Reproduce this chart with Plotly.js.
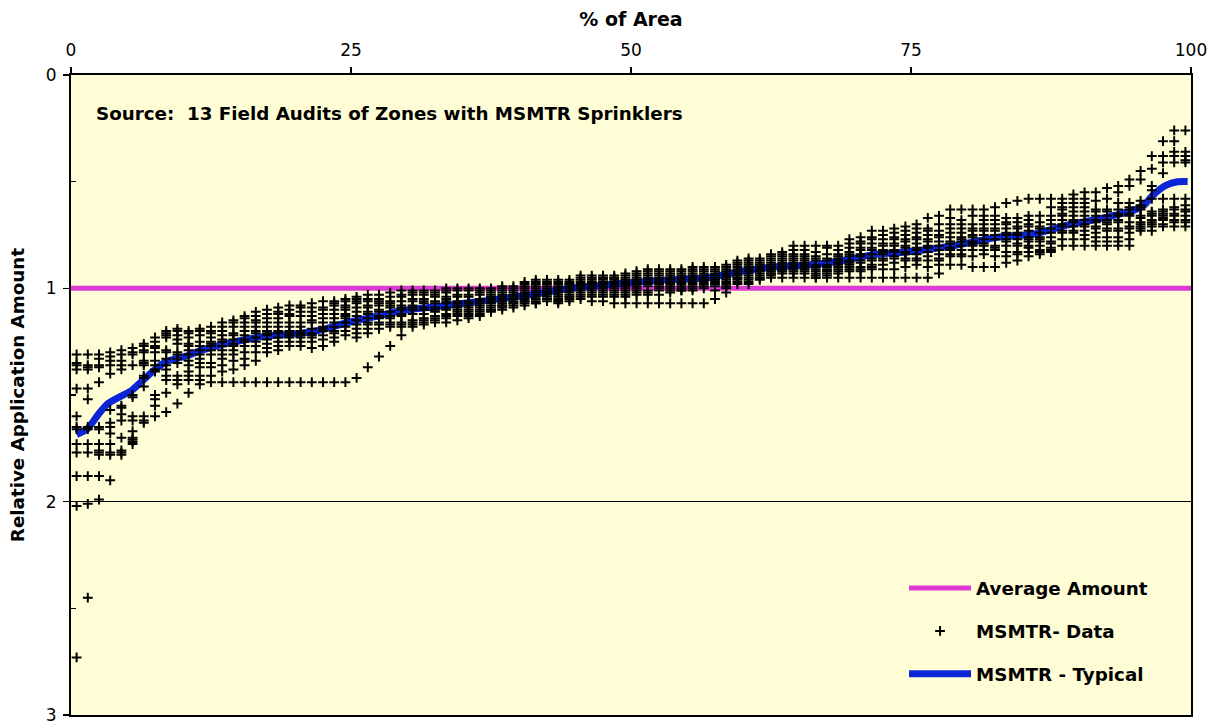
<!DOCTYPE html>
<html><head><meta charset="utf-8">
<script src="https://cdn.plot.ly/plotly-3.0.1.min.js"></script>
<style>html,body{margin:0;padding:0;background:#fff}#chart{width:1215px;height:724px}</style>
</head><body><div id="chart"></div>
<script>
// % of Area at which each column of audit readings was plotted
const areaPct = [0.5,1.5,2.5,3.5,4.5,5.5,6.5,7.5,8.5,9.5,10.5,11.5,12.5,13.5,14.5,15.5,16.5,17.5,18.5,19.5,
20.5,21.5,22.5,23.5,24.5,25.5,26.5,27.5,28.5,29.5,30.5,31.5,32.5,33.5,34.5,35.5,36.5,37.5,38.5,39.5,
40.5,41.5,42.5,43.5,44.5,45.5,46.5,47.5,48.5,49.5,50.5,51.5,52.5,53.5,54.5,55.5,56.5,57.5,58.5,59.5,
60.5,61.5,62.5,63.5,64.5,65.5,66.5,67.5,68.5,69.5,70.5,71.5,72.5,73.5,74.5,75.5,76.5,77.5,78.5,79.5,
80.5,81.5,82.5,83.5,84.5,85.5,86.5,87.5,88.5,89.5,90.5,91.5,92.5,93.5,94.5,95.5,96.5,97.5,98.5,99.5];

// MSMTR data: 13 audit readings (relative application amount) per column
const amounts01to10 = [
[1.31,1.35,1.36,1.38,1.47,1.60,1.65,1.66,1.73,1.77,1.88,2.02,2.73],
[1.31,1.36,1.37,1.38,1.47,1.52,1.65,1.66,1.73,1.77,1.88,2.01,2.45],
[1.31,1.33,1.36,1.37,1.44,1.65,1.66,1.73,1.76,1.77,1.78,1.88,1.99],
[1.30,1.32,1.34,1.36,1.40,1.57,1.63,1.65,1.68,1.73,1.77,1.78,1.90],
[1.29,1.31,1.34,1.36,1.38,1.55,1.56,1.59,1.62,1.70,1.76,1.77,1.78],
[1.28,1.30,1.31,1.36,1.50,1.51,1.60,1.62,1.67,1.70,1.71,1.72,1.73],
[1.26,1.27,1.29,1.30,1.34,1.35,1.36,1.41,1.42,1.46,1.60,1.62,1.63],
[1.23,1.25,1.27,1.28,1.30,1.34,1.36,1.38,1.39,1.50,1.52,1.55,1.60],
[1.20,1.21,1.22,1.23,1.29,1.30,1.33,1.36,1.38,1.41,1.43,1.49,1.58],
[1.19,1.20,1.22,1.24,1.26,1.30,1.31,1.33,1.35,1.41,1.43,1.45,1.54]];
const amounts11to20 = [
[1.20,1.21,1.23,1.26,1.27,1.29,1.31,1.34,1.36,1.39,1.41,1.43,1.49],
[1.19,1.20,1.22,1.25,1.27,1.29,1.31,1.33,1.35,1.37,1.41,1.43,1.45],
[1.18,1.20,1.21,1.23,1.25,1.26,1.27,1.29,1.31,1.35,1.37,1.41,1.44],
[1.16,1.18,1.20,1.22,1.24,1.25,1.27,1.29,1.31,1.33,1.36,1.39,1.44],
[1.15,1.16,1.18,1.21,1.22,1.24,1.26,1.27,1.29,1.31,1.34,1.38,1.44],
[1.13,1.14,1.16,1.18,1.20,1.22,1.24,1.25,1.27,1.30,1.33,1.36,1.44],
[1.11,1.13,1.15,1.16,1.18,1.20,1.21,1.23,1.25,1.27,1.30,1.34,1.44],
[1.10,1.12,1.14,1.16,1.18,1.20,1.21,1.22,1.24,1.26,1.28,1.30,1.44],
[1.09,1.11,1.12,1.14,1.16,1.18,1.20,1.21,1.23,1.25,1.27,1.29,1.44],
[1.08,1.10,1.12,1.13,1.16,1.18,1.20,1.21,1.22,1.23,1.25,1.27,1.44]];
const amounts21to30 = [
[1.08,1.09,1.11,1.13,1.16,1.18,1.20,1.21,1.22,1.23,1.25,1.27,1.44],
[1.07,1.09,1.11,1.13,1.15,1.16,1.19,1.21,1.22,1.23,1.25,1.28,1.44],
[1.06,1.09,1.10,1.12,1.14,1.16,1.18,1.19,1.20,1.22,1.24,1.27,1.44],
[1.06,1.07,1.08,1.10,1.12,1.14,1.16,1.18,1.20,1.21,1.23,1.25,1.44],
[1.05,1.06,1.08,1.09,1.10,1.12,1.13,1.14,1.16,1.18,1.20,1.22,1.44],
[1.04,1.05,1.06,1.07,1.09,1.11,1.13,1.15,1.17,1.19,1.21,1.23,1.42],
[1.03,1.05,1.06,1.08,1.09,1.11,1.12,1.14,1.16,1.17,1.19,1.21,1.37],
[1.03,1.05,1.06,1.07,1.08,1.10,1.11,1.13,1.14,1.16,1.17,1.19,1.32],
[1.02,1.04,1.06,1.07,1.08,1.09,1.11,1.13,1.14,1.16,1.17,1.18,1.27],
[1.01,1.03,1.04,1.06,1.08,1.09,1.10,1.12,1.13,1.16,1.17,1.18,1.22]];
const amounts31to40 = [
[1.01,1.02,1.03,1.05,1.06,1.08,1.09,1.10,1.12,1.15,1.16,1.17,1.18],
[1.01,1.02,1.03,1.05,1.06,1.07,1.09,1.10,1.12,1.14,1.15,1.16,1.17],
[1.01,1.02,1.03,1.04,1.06,1.07,1.09,1.10,1.11,1.13,1.14,1.15,1.16],
[1.00,1.01,1.02,1.04,1.05,1.06,1.07,1.09,1.10,1.12,1.13,1.14,1.16],
[1.00,1.01,1.03,1.04,1.06,1.07,1.08,1.09,1.10,1.11,1.12,1.13,1.15],
[1.00,1.01,1.03,1.04,1.06,1.07,1.08,1.09,1.10,1.11,1.12,1.13,1.14],
[1.00,1.01,1.02,1.03,1.05,1.06,1.07,1.08,1.09,1.10,1.11,1.12,1.13],
[1.00,1.01,1.02,1.03,1.04,1.05,1.06,1.07,1.08,1.09,1.10,1.10,1.11],
[0.99,1.00,1.01,1.02,1.03,1.04,1.05,1.06,1.07,1.08,1.08,1.09,1.10],
[0.99,1.00,1.01,1.02,1.03,1.04,1.05,1.05,1.06,1.07,1.07,1.08,1.09]];
const amounts41to50 = [
[0.97,0.98,0.99,1.00,1.01,1.02,1.03,1.04,1.05,1.06,1.06,1.07,1.08],
[0.96,0.97,0.98,0.99,1.00,1.01,1.02,1.03,1.04,1.05,1.06,1.07,1.07],
[0.96,0.97,0.98,0.99,1.00,1.01,1.02,1.02,1.03,1.04,1.05,1.05,1.06],
[0.96,0.97,0.98,0.99,1.00,1.01,1.02,1.03,1.04,1.05,1.06,1.06,1.07],
[0.96,0.97,0.98,0.98,0.99,1.00,1.01,1.02,1.03,1.04,1.04,1.05,1.06],
[0.94,0.95,0.96,0.97,0.98,0.99,0.99,1.00,1.01,1.02,1.03,1.04,1.05],
[0.94,0.95,0.96,0.97,0.98,0.98,0.99,1.00,1.01,1.02,1.03,1.04,1.06],
[0.94,0.95,0.95,0.96,0.97,0.98,0.99,1.00,1.01,1.02,1.03,1.04,1.06],
[0.94,0.95,0.95,0.96,0.97,0.98,0.99,1.00,1.01,1.02,1.03,1.04,1.07],
[0.93,0.94,0.95,0.96,0.97,0.98,0.99,1.00,1.01,1.02,1.03,1.04,1.07]];
const amounts51to60 = [
[0.92,0.93,0.94,0.95,0.96,0.97,0.98,0.99,1.00,1.01,1.02,1.03,1.07],
[0.91,0.92,0.93,0.94,0.95,0.96,0.97,0.98,0.99,1.01,1.02,1.03,1.07],
[0.91,0.92,0.93,0.94,0.95,0.96,0.97,0.98,0.99,1.00,1.01,1.03,1.07],
[0.91,0.92,0.93,0.94,0.95,0.96,0.97,0.98,0.99,1.00,1.01,1.02,1.07],
[0.91,0.92,0.93,0.94,0.95,0.96,0.97,0.98,0.99,1.00,1.01,1.01,1.07],
[0.90,0.91,0.92,0.93,0.94,0.95,0.96,0.97,0.98,0.99,1.00,1.01,1.07],
[0.90,0.91,0.92,0.93,0.94,0.95,0.96,0.96,0.97,0.98,0.99,1.00,1.07],
[0.90,0.91,0.92,0.93,0.94,0.95,0.96,0.96,0.97,0.98,0.99,1.01,1.05],
[0.89,0.90,0.91,0.92,0.93,0.94,0.95,0.96,0.97,0.98,0.99,1.00,1.02],
[0.87,0.88,0.89,0.90,0.91,0.92,0.93,0.94,0.95,0.95,0.96,0.97,0.98]];
const amounts61to70 = [
[0.86,0.87,0.88,0.89,0.90,0.91,0.92,0.93,0.94,0.95,0.96,0.97,0.98],
[0.86,0.87,0.88,0.89,0.90,0.91,0.92,0.92,0.93,0.94,0.95,0.95,0.96],
[0.84,0.85,0.86,0.87,0.88,0.89,0.90,0.91,0.92,0.93,0.93,0.94,0.95],
[0.83,0.84,0.85,0.86,0.87,0.88,0.89,0.90,0.91,0.92,0.92,0.93,0.95],
[0.80,0.82,0.84,0.85,0.86,0.87,0.88,0.89,0.90,0.91,0.92,0.93,0.95],
[0.80,0.82,0.84,0.85,0.86,0.87,0.88,0.89,0.90,0.91,0.92,0.93,0.95],
[0.80,0.83,0.85,0.86,0.87,0.89,0.90,0.91,0.92,0.93,0.94,0.95,0.95],
[0.80,0.81,0.84,0.86,0.87,0.89,0.90,0.91,0.92,0.92,0.93,0.94,0.95],
[0.80,0.82,0.84,0.85,0.86,0.87,0.88,0.89,0.90,0.91,0.92,0.93,0.95],
[0.77,0.79,0.81,0.83,0.84,0.85,0.87,0.88,0.89,0.90,0.91,0.92,0.95]];
const amounts71to80 = [
[0.76,0.78,0.79,0.81,0.82,0.84,0.85,0.87,0.88,0.90,0.91,0.92,0.95],
[0.73,0.76,0.77,0.79,0.81,0.82,0.84,0.86,0.87,0.89,0.90,0.91,0.95],
[0.73,0.75,0.77,0.79,0.80,0.82,0.83,0.84,0.86,0.87,0.89,0.91,0.95],
[0.72,0.74,0.76,0.77,0.79,0.80,0.82,0.83,0.85,0.86,0.88,0.91,0.95],
[0.71,0.73,0.75,0.77,0.78,0.80,0.81,0.83,0.84,0.86,0.87,0.90,0.95],
[0.70,0.72,0.74,0.76,0.77,0.79,0.81,0.82,0.84,0.86,0.87,0.89,0.95],
[0.67,0.72,0.73,0.75,0.77,0.78,0.80,0.81,0.83,0.85,0.87,0.90,0.95],
[0.66,0.70,0.73,0.75,0.76,0.78,0.80,0.82,0.84,0.86,0.87,0.89,0.93],
[0.63,0.67,0.70,0.72,0.74,0.76,0.78,0.79,0.81,0.82,0.84,0.85,0.89],
[0.63,0.68,0.70,0.72,0.74,0.76,0.77,0.78,0.80,0.82,0.84,0.85,0.89]];
const amounts81to90 = [
[0.63,0.66,0.70,0.72,0.73,0.75,0.76,0.78,0.79,0.80,0.82,0.85,0.90],
[0.63,0.66,0.68,0.70,0.72,0.73,0.75,0.77,0.79,0.80,0.82,0.84,0.90],
[0.62,0.66,0.68,0.70,0.72,0.73,0.75,0.77,0.80,0.81,0.82,0.85,0.90],
[0.60,0.67,0.69,0.70,0.72,0.74,0.75,0.77,0.78,0.80,0.83,0.85,0.88],
[0.59,0.67,0.69,0.71,0.72,0.74,0.75,0.77,0.79,0.80,0.83,0.84,0.87],
[0.58,0.66,0.68,0.70,0.71,0.73,0.76,0.77,0.78,0.80,0.81,0.83,0.85],
[0.58,0.66,0.69,0.71,0.72,0.74,0.76,0.77,0.78,0.80,0.82,0.83,0.84],
[0.58,0.62,0.66,0.68,0.70,0.72,0.74,0.76,0.78,0.79,0.81,0.82,0.83],
[0.58,0.60,0.62,0.63,0.65,0.66,0.68,0.70,0.71,0.73,0.74,0.77,0.80],
[0.56,0.58,0.60,0.62,0.64,0.66,0.68,0.69,0.71,0.73,0.74,0.77,0.80]];
const amounts91to100 = [
[0.55,0.58,0.60,0.62,0.64,0.66,0.68,0.70,0.71,0.73,0.75,0.77,0.80],
[0.55,0.59,0.63,0.64,0.66,0.68,0.69,0.71,0.72,0.74,0.76,0.78,0.80],
[0.53,0.58,0.63,0.64,0.66,0.68,0.69,0.70,0.72,0.73,0.76,0.78,0.80],
[0.52,0.55,0.60,0.63,0.65,0.66,0.68,0.69,0.72,0.73,0.76,0.78,0.80],
[0.49,0.52,0.60,0.62,0.63,0.65,0.66,0.69,0.71,0.72,0.74,0.77,0.80],
[0.45,0.49,0.59,0.61,0.62,0.63,0.66,0.67,0.69,0.70,0.71,0.72,0.73],
[0.38,0.44,0.52,0.54,0.58,0.64,0.65,0.66,0.68,0.69,0.70,0.71,0.73],
[0.31,0.38,0.41,0.46,0.58,0.63,0.64,0.65,0.66,0.67,0.68,0.70,0.71],
[0.26,0.31,0.36,0.38,0.41,0.58,0.62,0.63,0.65,0.66,0.68,0.69,0.71],
[0.26,0.36,0.38,0.40,0.41,0.58,0.61,0.63,0.64,0.66,0.68,0.69,0.71]];

// MSMTR - Typical curve
const typicalPct = [0.5,1.5,2.5,3.3,5.4,6.4,7.6,8.5,10.3,11.5,13.3,15.4,17.5,20.4,22.5,24.3,25.8,27.3,29.5,32.6,35.5,38.6,41.3,44.6,49.0,52.4,56.8,59.7,62.7,65.7,68.7,71.6,74.5,78.5,82.9,85.9,88.9,91.9,94.9,95.8,96.6,97.8,98.8,99.7];
const typicalAmount = [1.685,1.657,1.587,1.54,1.479,1.432,1.376,1.344,1.317,1.293,1.266,1.242,1.224,1.211,1.193,1.166,1.147,1.131,1.105,1.086,1.068,1.047,1.028,1.0,0.977,0.963,0.95,0.922,0.90,0.892,0.872,0.842,0.83,0.803,0.759,0.746,0.704,0.673,0.634,0.61,0.563,0.516,0.50,0.499];

// Average amount reference line
const averagePct = [0, 100];
const averageAmount = [1, 1];

// Axis ticks
const xTicks = [0, 25, 50, 75, 100];
const yTicks = [0, 1, 2, 3];
const yMinorTicks = [0.5, 1.5, 2.5];

const blocks = [amounts01to10, amounts11to20, amounts21to30, amounts31to40, amounts41to50,
                amounts51to60, amounts61to70, amounts71to80, amounts81to90, amounts91to100];
const dataX = [], dataY = [];
blocks.forEach((block, b) => {
  block.forEach((col, j) => {
    col.forEach(v => { dataX.push(areaPct[b * 10 + j]); dataY.push(v); });
  });
});

const FONT = 'DejaVu Sans, Verdana, sans-serif';
const BOLD = 18.3;

const traces = [
  {x: averagePct, y: averageAmount, type: 'scatter', mode: 'lines', name: 'Average Amount',
   line: {color: '#DC3AD3', width: 5}, legendgroup: 'g1', legendrank: 1},
  {x: typicalPct, y: typicalAmount, type: 'scatter', mode: 'lines', name: 'MSMTR - Typical',
   line: {color: '#0B26D6', width: 7, shape: 'spline', smoothing: 0.6}, legendgroup: 'g3', legendrank: 3},
  {x: dataX, y: dataY, type: 'scatter', mode: 'markers', name: 'MSMTR- Data',
   marker: {symbol: 'cross-thin', size: 7, color: '#000', line: {color: '#000', width: 2}},
   legendgroup: 'g2', legendrank: 2},
  // invisible carrier for the minor-tick axis (inside ticks at the half units)
  {x: averagePct, y: averageAmount, yaxis: 'y2', type: 'scatter', mode: 'lines',
   line: {width: 0, color: 'rgba(0,0,0,0)'}, showlegend: false, hoverinfo: 'skip'}
];

const layout = {
  width: 1215, height: 724,
  margin: {l: 71, r: 24, t: 75, b: 9},
  paper_bgcolor: '#ffffff', plot_bgcolor: '#FFFDD5',
  font: {family: FONT, size: 17, color: '#000'},
  showlegend: true,
  xaxis: {
    side: 'top', range: [0, 100], tickmode: 'array', tickvals: xTicks,
    ticks: 'outside', ticklen: 6, tickwidth: 1.5, tickcolor: '#000', ticklabelstandoff: 4,
    showline: true, linecolor: '#000', linewidth: 2, mirror: true,
    showgrid: false, zeroline: false, tickfont: {size: 17, family: FONT},
    title: {text: '<b>% of Area</b>', font: {size: 19, family: FONT}, standoff: 9}
  },
  yaxis: {
    range: [3, 0], tickmode: 'array', tickvals: yTicks,
    ticks: 'outside', ticklen: 6, tickwidth: 1.5, tickcolor: '#000', ticklabelstandoff: 3,
    ticklabeloverflow: 'allow',
    showline: true, linecolor: '#000', linewidth: 2, mirror: true,
    showgrid: true, gridcolor: '#000', gridwidth: 1.5, zeroline: false,
    tickfont: {size: 17, family: FONT},
    title: {text: '<b>Relative Application Amount</b>', font: {size: BOLD, family: FONT}, standoff: 16}
  },
  yaxis2: {
    overlaying: 'y', side: 'left', range: [3, 0], tickmode: 'array', tickvals: yMinorTicks,
    ticks: 'inside', ticklen: 5, tickwidth: 1.5, tickcolor: '#000',
    showticklabels: false, showline: false, showgrid: false, zeroline: false
  },
  legend: {
    x: 0.7438, y: 0.227, xanchor: 'left', yanchor: 'top',
    bgcolor: 'rgba(0,0,0,0)', borderwidth: 0,
    font: {size: BOLD, family: FONT, color: '#000', weight: 'bold'},
    traceorder: 'grouped', tracegroupgap: 16, itemwidth: 62
  },
  annotations: [{
    xref: 'paper', yref: 'paper', x: 0.0205, y: 0.94, xanchor: 'left', yanchor: 'middle',
    text: '<b>Source:\u00a0 13 Field Audits of Zones with MSMTR Sprinklers</b>', showarrow: false,
    font: {size: BOLD, family: FONT, color: '#000'}
  }]
};

Plotly.newPlot('chart', traces, layout, {displayModeBar: false, staticPlot: true});
</script></body></html>
